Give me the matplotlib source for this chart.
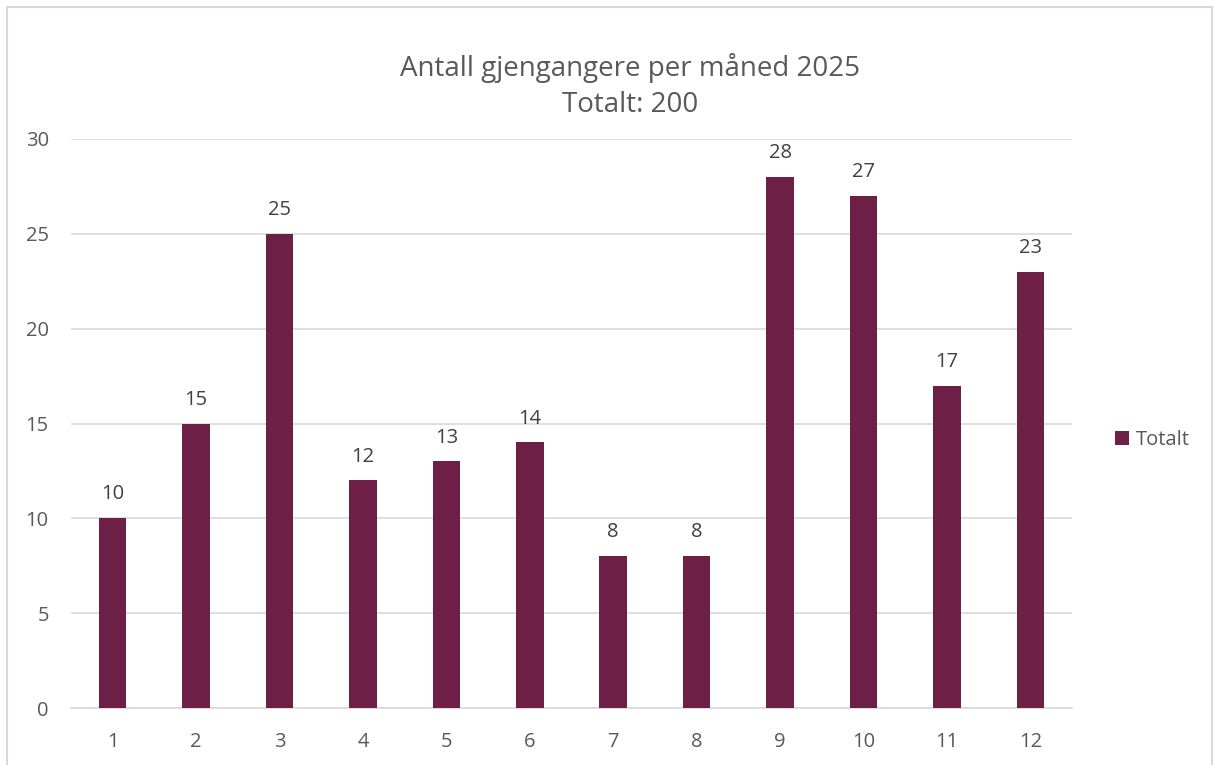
import matplotlib
matplotlib.use("Agg")
from matplotlib import pyplot as plt
from matplotlib.patches import Rectangle

# data
maaneder = ["1", "2", "3", "4", "5", "6", "7", "8", "9", "10", "11", "12"]
totalt = [10, 15, 25, 12, 13, 14, 8, 8, 28, 27, 17, 23]
y_ticks = [0, 5, 10, 15, 20, 25, 30]

bar_color = "#6D1F45"
text_color = "#595959"

plt.rcParams["font.family"] = ["Open Sans", "DejaVu Sans"]

fig = plt.figure(figsize=(12.14, 7.65), dpi=100)
ax = fig.add_axes([71 / 1214, 1 - 708 / 765, (1072 - 71) / 1214, (708 - 139) / 765])

x = list(range(len(maaneder)))
bars = ax.bar(x, totalt, width=0.33, color=bar_color, label="Totalt", zorder=3)

# data labels over the bars
for xi, v in zip(x, totalt):
    ax.annotate(str(v), (xi, v), xytext=(0, 10), textcoords="offset points",
                ha="center", va="bottom", fontsize=14.5, color="#404040")

ax.set_xlim(-0.5, len(maaneder) - 0.5)
ax.set_ylim(0, 30)
ax.set_yticks(y_ticks)
ax.set_xticks(x)
ax.set_xticklabels(maaneder)
ax.tick_params(axis="both", length=0, labelsize=14.5, labelcolor=text_color)
ax.tick_params(axis="y", pad=16)
ax.tick_params(axis="x", pad=17)
ax.yaxis.grid(True, color="#D9D9D9", linewidth=1.2, zorder=0)
for side in ["top", "right", "left"]:
    ax.spines[side].set_visible(False)
ax.spines["bottom"].set_color("#D9D9D9")
ax.spines["bottom"].set_linewidth(1.2)

fig.text(630 / 1214, 1 - 86 / 765, "Antall gjengangere per måned 2025\nTotalt: 200",
         ha="center", va="center", fontsize=20, color=text_color, linespacing=1.4)

leg = fig.legend(handles=[bars], labels=["Totalt"], loc="center left",
                 bbox_to_anchor=(1097 / 1214, 1 - 440 / 765), frameon=False,
                 fontsize=14.5, handlelength=0.7, handleheight=0.7, handletextpad=0.35)
for t in leg.get_texts():
    t.set_color(text_color)

# chart border (bottom edge cut off like in the screenshot)
fig.patches.append(Rectangle((7 / 1214, -0.05), (1212 - 7) / 1214, (758 + 38) / 765,
                             transform=fig.transFigure, fill=False,
                             edgecolor="#D9D9D9", linewidth=1.5))

fig.savefig("out.png", dpi=100)
